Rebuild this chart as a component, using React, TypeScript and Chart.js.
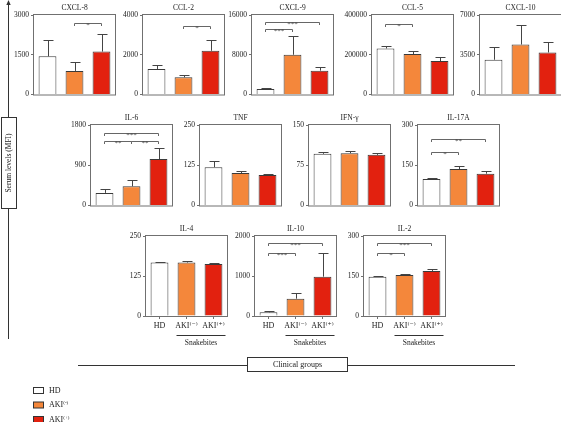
import React, { useEffect, useRef } from "react";
import { Chart, registerables } from "chart.js";
Chart.register(...registerables);

const FONT = '"Liberation Serif", "DejaVu Serif", serif';
const AXIS = "#707070";
const BAR_EDGE = "#3a3a3a";
const TEXT = "#222222";

// ---------- data ----------
const groupLabels = ["HD", "AKI⁽⁻⁾", "AKI⁽⁺⁾"];
const barColors = ["#ffffff", "#f4873b", "#e2210f"];

const cxcl8Mean = [1440, 890, 1620];
const cxcl8Err = [600, 340, 665];
const cxcl8Max = 3000;
const cxcl8Sig = [[1, 2, "*", 2690]];

const ccl2Mean = [1285, 865, 2200];
const ccl2Err = [200, 135, 520];
const ccl2Max = 4000;
const ccl2Sig = [[1, 2, "*", 3470]];

const cxcl9Mean = [1130, 8000, 4800];
const cxcl9Err = [200, 3730, 800];
const cxcl9Max = 16000;
const cxcl9Sig = [[0, 1, "***", 13200], [0, 2, "***", 14600]];

const ccl5Mean = [231700, 203300, 168300];
const ccl5Err = [13300, 13300, 18300];
const ccl5Max = 400000;
const ccl5Sig = [[0, 1, "*", 356700]];

const cxcl10Mean = [3060, 4400, 3700];
const cxcl10Err = [1110, 1750, 900];
const cxcl10Max = 7000;
const cxcl10Sig: any[] = [];

const il6Mean = [282, 429, 1037];
const il6Err = [96, 133, 259];
const il6Max = 1800;
const il6Sig = [[0, 2, "***", 1630], [0, 1, "**", 1445], [1, 2, "**", 1445]];

const tnfMean = [119, 101, 95];
const tnfErr = [20, 5, 2];
const tnfMax = 250;
const tnfSig: any[] = [];

const ifnMean = [96.3, 97.5, 94.4];
const ifnErr = [3, 3.5, 3];
const ifnMax = 150;
const ifnSig: any[] = [];

const il17Mean = [99, 136, 118.5];
const il17Err = [3.5, 10, 8.5];
const il17Max = 300;
const il17Sig = [[0, 1, "*", 200], [0, 2, "**", 249]];

const il4Mean = [167, 167, 162.5];
const il4Err = [3, 6, 4];
const il4Max = 250;
const il4Sig: any[] = [];

const il10Mean = [92, 433, 983];
const il10Err = [25, 150, 584];
const il10Max = 2000;
const il10Sig = [[0, 1, "***", 1567], [0, 2, "***", 1817]];

const il2Mean = [147.5, 154, 169];
const il2Err = [2.5, 2, 8];
const il2Max = 300;
const il2Sig = [[0, 1, "*", 237], [0, 2, "***", 272]];

// ---------- layout ----------
const LEFT = 40;
const PAD_TOP = 14;
const PAD_RIGHT = 4;
const PW = 81;

type PanelDef = {
  title: string; mean: number[]; err: number[]; max: number; sig: any[];
  x: number; y: number; h: number; bottomRow: boolean;
};

const panels: PanelDef[] = [
  { title: "CXCL-8", mean: cxcl8Mean, err: cxcl8Err, max: cxcl8Max, sig: cxcl8Sig, x: 34, y: 15, h: 80, bottomRow: false },
  { title: "CCL-2", mean: ccl2Mean, err: ccl2Err, max: ccl2Max, sig: ccl2Sig, x: 143, y: 15, h: 80, bottomRow: false },
  { title: "CXCL-9", mean: cxcl9Mean, err: cxcl9Err, max: cxcl9Max, sig: cxcl9Sig, x: 252, y: 15, h: 80, bottomRow: false },
  { title: "CCL-5", mean: ccl5Mean, err: ccl5Err, max: ccl5Max, sig: ccl5Sig, x: 372, y: 15, h: 80, bottomRow: false },
  { title: "CXCL-10", mean: cxcl10Mean, err: cxcl10Err, max: cxcl10Max, sig: cxcl10Sig, x: 480, y: 15, h: 80, bottomRow: false },
  { title: "IL-6", mean: il6Mean, err: il6Err, max: il6Max, sig: il6Sig, x: 91, y: 125, h: 81, bottomRow: false },
  { title: "TNF", mean: tnfMean, err: tnfErr, max: tnfMax, sig: tnfSig, x: 200, y: 125, h: 81, bottomRow: false },
  { title: "IFN-γ", mean: ifnMean, err: ifnErr, max: ifnMax, sig: ifnSig, x: 309, y: 125, h: 81, bottomRow: false },
  { title: "IL-17A", mean: il17Mean, err: il17Err, max: il17Max, sig: il17Sig, x: 418, y: 125, h: 81, bottomRow: false },
  { title: "IL-4", mean: il4Mean, err: il4Err, max: il4Max, sig: il4Sig, x: 146, y: 236, h: 80, bottomRow: true },
  { title: "IL-10", mean: il10Mean, err: il10Err, max: il10Max, sig: il10Sig, x: 255, y: 236, h: 80, bottomRow: true },
  { title: "IL-2", mean: il2Mean, err: il2Err, max: il2Max, sig: il2Sig, x: 364, y: 236, h: 80, bottomRow: true },
];

function Panel({ p }: { p: PanelDef }) {
  const ref = useRef<HTMLCanvasElement>(null);
  const xAxisH = p.bottomRow ? 18 : 6;
  const padBottom = p.bottomRow ? 16 : 0;
  const cw = LEFT + PW + PAD_RIGHT;
  const ch = PAD_TOP + p.h + xAxisH + padBottom;

  useEffect(() => {
    const deco = {
      id: "deco",
      afterDraw(chart: any) {
        const ctx = chart.ctx;
        const a = chart.chartArea;
        const xs = chart.scales.x;
        const ys = chart.scales.y;
        const meta = chart.getDatasetMeta(0);
        ctx.save();
        // frame
        ctx.strokeStyle = AXIS;
        ctx.lineWidth = 1;
        ctx.strokeRect(a.left - 0.5, a.top - 0.5, a.right - a.left + 1, a.bottom - a.top + 1);
        // error bars
        ctx.strokeStyle = "#444";
        for (let i = 0; i < p.mean.length; i++) {
          const bx = Math.round(meta.data[i].x) + 0.5;
          const y0 = ys.getPixelForValue(p.mean[i]);
          const y1 = Math.round(ys.getPixelForValue(p.mean[i] + p.err[i])) + 0.5;
          ctx.beginPath();
          ctx.moveTo(bx, y0);
          ctx.lineTo(bx, y1);
          ctx.moveTo(bx - 5, y1);
          ctx.lineTo(bx + 5, y1);
          ctx.stroke();
        }
        // significance brackets
        ctx.strokeStyle = "#666";
        ctx.fillStyle = "#444";
        ctx.font = `7px ${FONT}`;
        ctx.textAlign = "center";
        ctx.textBaseline = "alphabetic";
        for (const s of p.sig) {
          const x1 = xs.getPixelForValue(s[0]);
          const x2 = xs.getPixelForValue(s[1]);
          const y = Math.round(ys.getPixelForValue(s[3])) + 0.5;
          ctx.beginPath();
          ctx.moveTo(x1, y + 2.5);
          ctx.lineTo(x1, y);
          ctx.lineTo(x2, y);
          ctx.lineTo(x2, y + 2.5);
          ctx.stroke();
          ctx.fillText(s[2], (x1 + x2) / 2, y + 3);
        }
        // title
        ctx.fillStyle = TEXT;
        ctx.font = `7.5px ${FONT}`;
        ctx.fillText(p.title, (a.left + a.right) / 2, a.top - 5);
        // snakebites group label
        if (p.bottomRow) {
          const c1 = xs.getPixelForValue(1);
          const c2 = xs.getPixelForValue(2);
          const ly = a.bottom + 19.5;
          ctx.strokeStyle = "#333";
          ctx.beginPath();
          ctx.moveTo(c1 - 10, ly);
          ctx.lineTo(c2 + 12, ly);
          ctx.stroke();
          ctx.textBaseline = "middle";
          ctx.font = `7.5px ${FONT}`;
          ctx.fillText("Snakebites", (c1 + c2) / 2 + 1, ly + 8);
        }
        ctx.restore();
      },
    };

    const chart = new Chart(ref.current as HTMLCanvasElement, {
      type: "bar",
      data: {
        labels: groupLabels,
        datasets: [
          {
            data: p.mean,
            backgroundColor: barColors,
            borderColor: BAR_EDGE,
            borderWidth: 1,
            barPercentage: 0.66,
            categoryPercentage: 1,
          },
        ],
      },
      options: {
        responsive: false,
        animation: false,
        devicePixelRatio: 1,
        layout: { padding: { top: PAD_TOP, right: PAD_RIGHT, left: 0, bottom: padBottom } },
        plugins: { legend: { display: false }, tooltip: { enabled: false }, title: { display: false } },
        scales: {
          x: {
            offset: true,
            grid: { display: p.bottomRow, drawOnChartArea: false, drawTicks: true, tickLength: 3, offset: false, color: AXIS },
            border: { display: false },
            ticks: { display: p.bottomRow, autoSkip: false, maxRotation: 0, minRotation: 0, padding: 2, color: TEXT, font: { family: FONT, size: 8 } },
            afterFit: (s: any) => { s.height = xAxisH; },
          },
          y: {
            min: 0,
            max: p.max,
            grid: { drawOnChartArea: false, drawTicks: true, tickLength: 3, color: AXIS },
            border: { display: false },
            ticks: { stepSize: p.max / 2, padding: 2, color: TEXT, font: { family: FONT, size: 7.5 }, callback: (v: any) => String(v) },
            afterFit: (s: any) => { s.width = LEFT; },
          },
        },
      } as any,
      plugins: [deco],
    });
    return () => chart.destroy();
  }, []);

  return (
    <canvas
      ref={ref}
      width={cw}
      height={ch}
      style={{ position: "absolute", left: p.x - LEFT, top: p.y - PAD_TOP, width: cw, height: ch }}
    />
  );
}

const legendItems = [
  { label: "HD", sup: "", color: barColors[0] },
  { label: "AKI", sup: "(-)", color: barColors[1] },
  { label: "AKI", sup: "(+)", color: barColors[2] },
];

export default function App() {
  return (
    <div style={{ position: "absolute", left: 0, top: 0, width: 561, height: 422, background: "#fff", overflow: "hidden" }}>
      <svg
        width={561}
        height={422}
        style={{ position: "absolute", left: 0, top: 0, willChange: "transform" }}
        fontFamily={FONT}
      >
        {/* vertical axis with arrow */}
        <line x1={8.5} y1={3} x2={8.5} y2={339} stroke="#333" strokeWidth={1} />
        <polygon points="8.5,0 6.3,5 10.7,5" fill="#333" />
        <rect x={1.5} y={117.5} width={15} height={91} fill="#fff" stroke="#333" strokeWidth={1} />
        <text x={9.5} y={163} fontSize={7.5} fill={TEXT} textAnchor="middle" dominantBaseline="middle" transform="rotate(-90 9.5 163)">
          Serum levels (MFI)
        </text>
        {/* clinical groups */}
        <line x1={78} y1={365.5} x2={515} y2={365.5} stroke="#333" strokeWidth={1} />
        <rect x={247.5} y={357.5} width={100} height={14} fill="#fff" stroke="#333" strokeWidth={1} />
        <text x={297.5} y={365} fontSize={8} fill={TEXT} textAnchor="middle" dominantBaseline="middle">
          Clinical groups
        </text>
        {/* legend */}
        {legendItems.map((it, i) => (
          <g key={i}>
            <rect x={33.5} y={387.5 + i * 14.5} width={10} height={6} fill={it.color} stroke="#333" strokeWidth={1} />
            <text x={49} y={391 + i * 14.5} fontSize={8} fill={TEXT} dominantBaseline="middle">
              {it.label}
              {it.sup ? <tspan fontSize={5} dy={-2.5}>{it.sup}</tspan> : null}
            </text>
          </g>
        ))}
      </svg>
      {panels.map((p) => (
        <Panel key={p.title} p={p} />
      ))}
    </div>
  );
}
